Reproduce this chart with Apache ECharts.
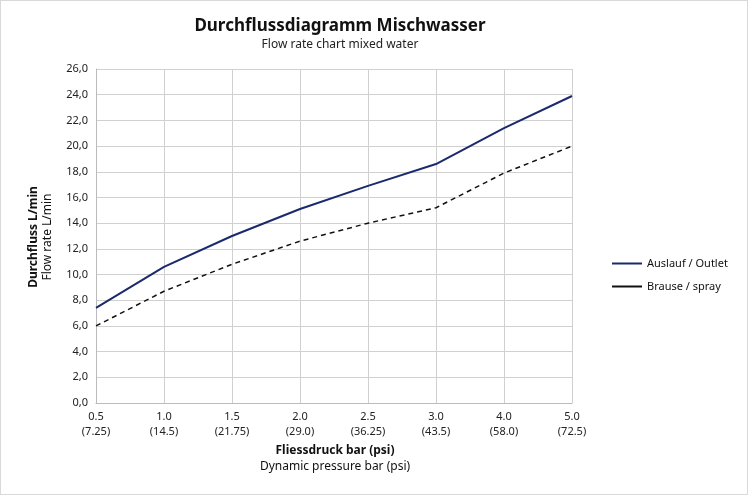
<!DOCTYPE html>
<html>
<head>
<meta charset="utf-8">
<script src="https://cdn.jsdelivr.net/npm/echarts@6/dist/echarts.min.js"></script>
<style>
  html, body { margin: 0; padding: 0; background: #fff; }
  #main { width: 748px; height: 495px; box-sizing: border-box; border: 1px solid #d9d9d9; }
</style>
</head>
<body>
<div id="main"></div>
<script>
var categories = ['0.5\n(7.25)', '1.0\n(14.5)', '1.5\n(21.75)', '2.0\n(29.0)', '2.5\n(36.25)', '3.0\n(43.5)', '4.0\n(58.0)', '5.0\n(72.5)'];
var outlet = [7.4, 10.6, 13.0, 15.1, 16.9, 18.6, 21.4, 23.9];
var spray = [6.0, 8.7, 10.8, 12.6, 14.0, 15.2, 17.9, 20.0];

var font = 'Noto Sans';
var chart = echarts.init(document.getElementById('main'));
chart.setOption({
    textStyle: {fontFamily: font},
    title: {
        text: 'Durchflussdiagramm Mischwasser',
        subtext: 'Flow rate chart mixed water',
        left: 334, top: 12, textAlign: 'center', itemGap: 4,
        textStyle: {fontSize: 17, fontWeight: 'bold', color: '#111', fontFamily: font},
        subtextStyle: {fontSize: 12, color: '#222', fontFamily: font}
    },
    legend: {
        orient: 'vertical', left: 606, top: 252, itemGap: 12, itemWidth: 30, itemHeight: 2,
        textStyle: {fontSize: 11, color: '#111'},
        data: [{name: 'Auslauf / Outlet', icon: 'rect'}, {name: 'Brause / spray', icon: 'rect'}]
    },
    grid: {left: 95, right: 175, top: 68, bottom: 91},
    xAxis: {
        type: 'category', data: categories, boundaryGap: false,
        axisLine: {lineStyle: {color: '#bbb'}},
        axisTick: {show: false},
        splitLine: {show: true, lineStyle: {color: '#d0d0d0'}},
        axisLabel: {color: '#222', fontSize: 11, lineHeight: 15, margin: 6}
    },
    yAxis: {
        type: 'value', min: 0, max: 26, interval: 2,
        axisLine: {show: true, lineStyle: {color: '#bbb'}},
        splitLine: {lineStyle: {color: '#d0d0d0'}},
        axisLabel: {color: '#222', fontSize: 11, formatter: function (v) { return v.toFixed(1).replace('.', ','); }}
    },
    graphic: [
        {type: 'text', rotation: Math.PI / 2, x: 33, y: 236,
         style: {text: 'Durchfluss L/min', font: 'bold 12px ' + font, fill: '#111', textAlign: 'center', textVerticalAlign: 'middle'}},
        {type: 'text', rotation: Math.PI / 2, x: 47, y: 236,
         style: {text: 'Flow rate L/min', font: '12px ' + font, fill: '#111', textAlign: 'center', textVerticalAlign: 'middle'}},
        {type: 'text', x: 334, y: 450,
         style: {text: 'Fliessdruck bar (psi)', font: 'bold 12px ' + font, fill: '#111', textAlign: 'center', textVerticalAlign: 'middle'}},
        {type: 'text', x: 334, y: 466,
         style: {text: 'Dynamic pressure bar (psi)', font: '12px ' + font, fill: '#111', textAlign: 'center', textVerticalAlign: 'middle'}}
    ],
    series: [
        {name: 'Auslauf / Outlet', type: 'line', data: outlet, symbol: 'none',
         lineStyle: {color: '#1a2a6c', width: 2}, itemStyle: {color: '#1a2a6c'}},
        {name: 'Brause / spray', type: 'line', data: spray, symbol: 'none',
         lineStyle: {color: '#111', width: 1.5, type: [5, 4]}, itemStyle: {color: '#111'}}
    ]
});
</script>
</body>
</html>
